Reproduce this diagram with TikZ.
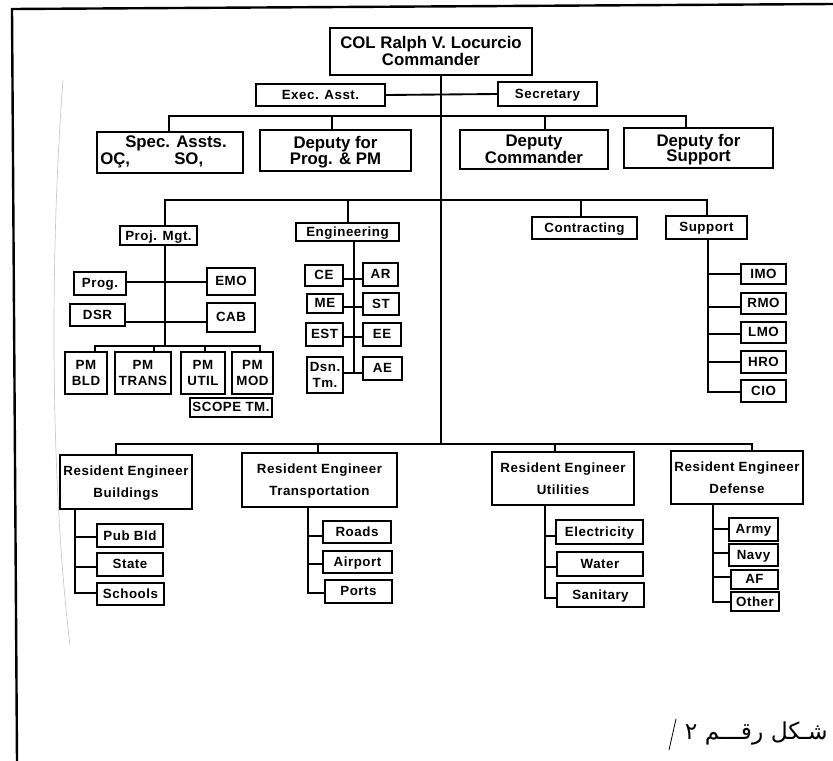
\documentclass[tikz,border=0pt]{standalone}
\usepackage{fontspec}
\setmainfont{Liberation Sans}
\newfontfamily\lsp[LetterSpace=4]{Liberation Sans}
\newfontfamily\arabicfont[Script=Arabic]{DejaVu Sans}
\TeXXeTstate=1
\newcommand\bx[7][]{\node[box,#1,minimum width={(#5-#3)*0.75pt},minimum height={(#6-#4)*0.75pt}] (#2) at ({(#3+#5)/2},{(#4+#6)/2}) {#7};}
\begin{document}
\begin{tikzpicture}[x=0.75pt,y=-0.75pt,
  box/.style={draw,line width=1.1pt,inner sep=1pt,align=center,text depth=0.3pt,font=\lsp\bfseries\fontsize{10}{12}\selectfont},
  top/.style={font=\bfseries\fontsize{12.6}{11.5}\selectfont},
  re/.style={font=\lsp\bfseries\fontsize{10}{16.5}\selectfont},
  conn/.style={line width=1.4pt},
  frame/.style={line width=1.8pt}]
\useasboundingbox (0,0) rectangle (833,761);
% frame and scan shadow
\coordinate (fr1) at (833,4);
\coordinate (fr2) at (12,9);
\coordinate (fr3) at (17,761);
\draw[frame] (fr1) -- (fr2) -- (fr3);
\coordinate (sh1) at (63,80);
\coordinate (sh2) at (70,645);
\draw[gray!45,line width=0.5pt] (sh1) .. controls (50,250) and (50,480) .. (sh2);
% top level
\bx[top]{cmd}{330}{28}{532}{75}{COL Ralph V. Locurcio\\Commander}
\bx{exec}{256}{84}{385}{106}{Exec. Asst.}
\bx{sec}{498}{82}{597}{106}{Secretary}
\bx[top]{spec}{97}{132}{243}{173}{}
\node[top,inner sep=0,anchor=base] (specA) at (176,147) {Spec. Assts.};
\node[top,inner sep=0,anchor=base west] (specB) at (100,164) {OÇ,};
\node[top,inner sep=0,anchor=base west] (specC) at (174,164) {SO,};
\bx[top]{dprog}{260}{130}{411}{171}{Deputy for\\Prog. \& PM}
\bx[top]{dcom}{460}{130}{608}{169}{Deputy\\Commander}
\bx[top]{dsup}{624}{128}{773}{168}{Deputy for\\Support}
% second level
\bx{pm}{120}{226}{197}{245}{Proj. Mgt.}
\bx{eng}{296}{223}{399}{241}{Engineering}
\bx{con}{532}{217}{637}{239}{Contracting}
\bx{sup}{666}{216}{747}{239}{Support}
% project management
\bx{prog}{74}{272}{126}{295}{Prog.}
\bx{emo}{207}{268}{255}{295}{EMO}
\bx{dsr}{70}{304}{125}{326}{DSR}
\bx{cab}{207}{303}{255}{332}{CAB}
\bx{pmb}{65}{352}{107}{394}{PM\\BLD}
\bx{pmt}{115}{352}{171}{394}{PM\\TRANS}
\bx{pmu}{181}{352}{225}{394}{PM\\UTIL}
\bx{pmm}{232}{352}{273}{394}{PM\\MOD}
\bx{scope}{190}{398}{272}{417}{SCOPE TM.}
% engineering
\bx{ce}{305}{265}{343}{286}{CE}
\bx{ar}{363}{263}{398}{286}{AR}
\bx{me}{307}{294}{343}{313}{ME}
\bx{st}{363}{293}{399}{315}{ST}
\bx{est}{306}{323}{343}{346}{EST}
\bx{ee}{363}{323}{401}{346}{EE}
\bx{dsn}{307}{357}{343}{393}{Dsn.\\Tm.}
\bx{ae}{363}{357}{402}{380}{AE}
% support
\bx{imo}{741}{264}{786}{284}{IMO}
\bx{rmo}{741}{293}{786}{314}{RMO}
\bx{lmo}{741}{322}{786}{343}{LMO}
\bx{hro}{741}{351}{786}{373}{HRO}
\bx{cio}{741}{380}{786}{402}{CIO}
% resident engineers
\bx[re]{reb}{60}{455}{192}{509}{Resident Engineer\\Buildings}
\bx[re]{ret}{242}{453}{397}{507}{Resident Engineer\\Transportation}
\bx[re]{reu}{492}{452}{634}{505}{Resident Engineer\\Utilities}
\bx[re]{red}{671}{451}{803}{504}{Resident Engineer\\Defense}
\bx{pub}{97}{524}{163}{547}{Pub Bld}
\bx{state}{97}{553}{163}{576}{State}
\bx{sch}{97}{583}{164}{605}{Schools}
\bx{roads}{323}{521}{391}{543}{Roads}
\bx{air}{323}{551}{392}{573}{Airport}
\bx{ports}{325}{580}{392}{603}{Ports}
\bx{elec}{556}{520}{643}{544}{Electricity}
\bx{water}{557}{552}{643}{576}{Water}
\bx{san}{557}{583}{644}{607}{Sanitary}
\bx{army}{729}{518}{778}{541}{Army}
\bx{navy}{729}{544}{778}{566}{Navy}
\bx{af}{731}{570}{778}{589}{AF}
\bx{other}{731}{592}{779}{611}{Other}
% main trunk
\coordinate (tA) at (441,116);
\coordinate (tC) at (441,444);
\draw[conn] (cmd.south -| tA) -- (tC);
\draw[conn] (exec.east) -- (sec.west);
% deputies bar
\coordinate (d1) at (169,116);
\coordinate (d2) at (332,116);
\coordinate (d3) at (545,116);
\coordinate (d4) at (686,116);
\draw[conn] (spec.north -| d1) -- (d1) -- (d4) -- (dsup.north -| d4);
\draw[conn] (dprog.north -| d2) -- (d2);
\draw[conn] (dcom.north -| d3) -- (d3);
% second level bar
\coordinate (e1) at (165,200);
\coordinate (e2) at (348,200);
\coordinate (e3) at (581,200);
\coordinate (e4) at (707,200);
\draw[conn] (pm.north -| e1) -- (e1) -- (e4) -- (sup.north -| e4);
\draw[conn] (eng.north -| e2) -- (e2);
\draw[conn] (con.north -| e3) -- (e3);
% project management tree
\coordinate (p0) at (165,346);
\coordinate (p1) at (165,282);
\coordinate (p2) at (165,322);
\draw[conn] (pm.south -| p0) -- (p0);
\draw[conn] (prog.east |- p1) -- (emo.west |- p1);
\draw[conn] (dsr.east |- p2) -- (cab.west |- p2);
\coordinate (q1) at (95,346);
\coordinate (q2) at (154,346);
\coordinate (q3) at (205,346);
\coordinate (q4) at (260,346);
\draw[conn] (pmb.north -| q1) -- (q1) -- (q4) -- (pmm.north -| q4);
\draw[conn] (pmt.north -| q2) -- (q2);
\draw[conn] (pmu.north -| q3) -- (q3);
% engineering tree
\coordinate (g1) at (354,279);
\coordinate (g2) at (354,307);
\coordinate (g3) at (354,337);
\coordinate (g4) at (354,373);
\draw[conn] (eng.south -| g4) -- (g4);
\draw[conn] (ce.east |- g1) -- (ar.west |- g1);
\draw[conn] (me.east |- g2) -- (st.west |- g2);
\draw[conn] (est.east |- g3) -- (ee.west |- g3);
\draw[conn] (dsn.east |- g4) -- (ae.west |- g4);
% support tree
\coordinate (s1) at (708,274);
\coordinate (s2) at (708,307);
\coordinate (s3) at (708,334);
\coordinate (s4) at (708,362);
\coordinate (s5) at (708,392);
\draw[conn] (sup.south -| s5) -- (s5) -- (s5 -| cio.west);
\draw[conn] (s1) -- (s1 -| imo.west);
\draw[conn] (s2) -- (s2 -| rmo.west);
\draw[conn] (s3) -- (s3 -| lmo.west);
\draw[conn] (s4) -- (s4 -| hro.west);
% resident engineer bar
\coordinate (r1) at (116,444);
\coordinate (r2) at (318,444);
\coordinate (r3) at (555,444);
\coordinate (r4) at (752,444);
\draw[conn] (reb.north -| r1) -- (r1) -- (r4) -- (red.north -| r4);
\draw[conn] (ret.north -| r2) -- (r2);
\draw[conn] (reu.north -| r3) -- (r3);
% buildings
\coordinate (b1) at (75,537);
\coordinate (b2) at (75,567);
\coordinate (b3) at (75,593);
\draw[conn] (reb.south -| b3) -- (b3) -- (b3 -| sch.west);
\draw[conn] (b1) -- (b1 -| pub.west);
\draw[conn] (b2) -- (b2 -| state.west);
% transportation
\coordinate (k1) at (308,536);
\coordinate (k2) at (308,564);
\coordinate (k3) at (308,593);
\draw[conn] (ret.south -| k3) -- (k3) -- (k3 -| ports.west);
\draw[conn] (k1) -- (k1 -| roads.west);
\draw[conn] (k2) -- (k2 -| air.west);
% utilities
\coordinate (u1) at (545,536);
\coordinate (u2) at (545,567);
\coordinate (u3) at (545,598);
\draw[conn] (reu.south -| u3) -- (u3) -- (u3 -| san.west);
\draw[conn] (u1) -- (u1 -| elec.west);
\draw[conn] (u2) -- (u2 -| water.west);
% defense
\coordinate (h1) at (713,529);
\coordinate (h2) at (713,553);
\coordinate (h3) at (713,577);
\coordinate (h4) at (713,602);
\draw[conn] (red.south -| h4) -- (h4) -- (h4 -| other.west);
\draw[conn] (h1) -- (h1 -| army.west);
\draw[conn] (h2) -- (h2 -| navy.west);
\draw[conn] (h3) -- (h3 -| af.west);
% caption
\node[font=\arabicfont\fontsize{17.5}{21}\selectfont,anchor=east,inner sep=0] (cap) at (828,733) {\beginR شـكل رقـــم ٢\endR};
\coordinate (sl1) at (676,719);
\coordinate (sl2) at (669,750);
\draw[line width=0.6pt] (sl1) -- (sl2);
\end{tikzpicture}
\end{document}
